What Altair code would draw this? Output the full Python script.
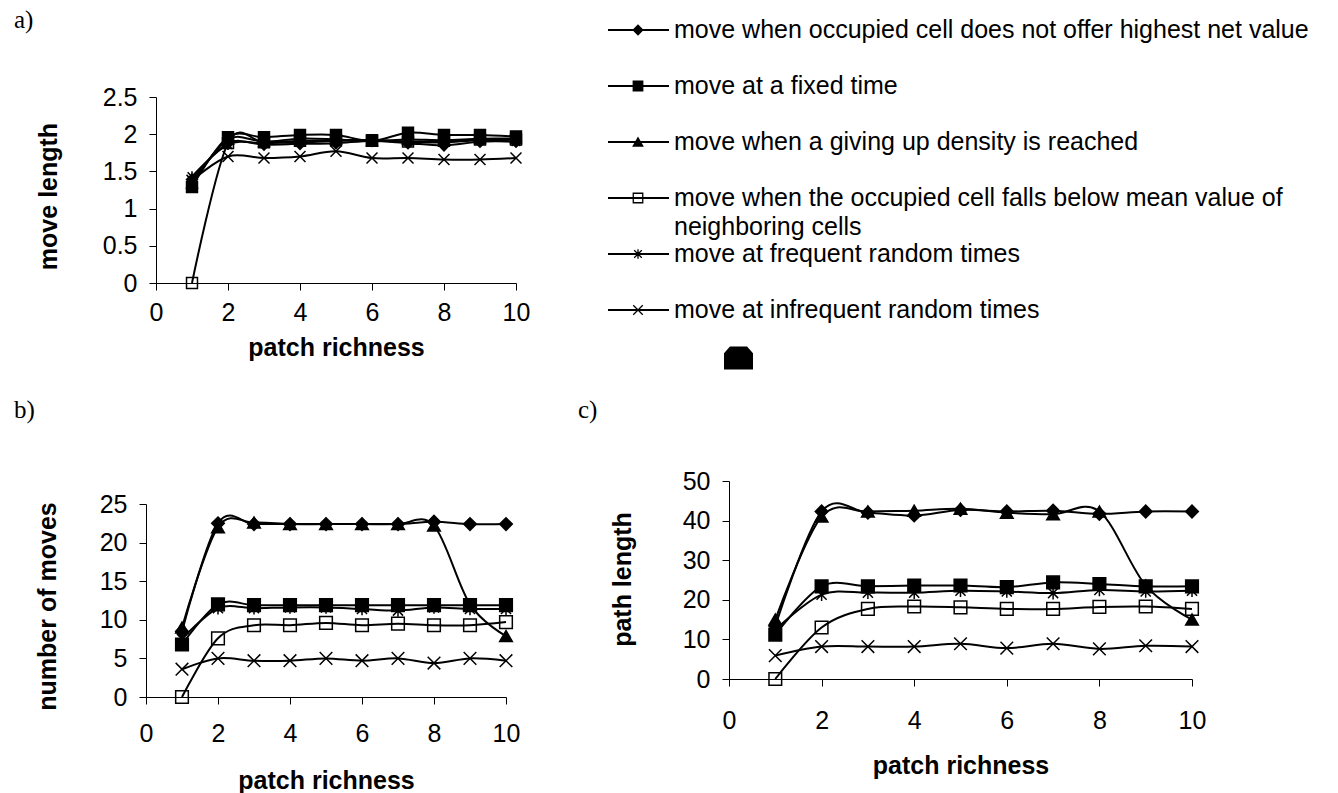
import altair as alt
import pandas as pd

# ---------------- data ----------------
patch_richness = [1, 2, 3, 4, 5, 6, 7, 8, 9, 10]
series_keys = ["s1", "s2", "s3", "s4", "s5", "s6"]
series_labels = [
    ["move when occupied cell does not offer highest net value"],
    ["move at a fixed time"],
    ["move when a giving up density is reached"],
    ["move when the occupied cell falls below mean value of", "neighboring cells"],
    ["move at frequent random times"],
    ["move at infrequent random times"],
]

move_length = [
    [1.39, 1.88, 1.86, 1.87, 1.88, 1.91, 1.88, 1.85, 1.90, 1.90],
    [1.29, 1.96, 1.96, 1.99, 1.99, 1.91, 2.02, 1.99, 1.99, 1.97],
    [1.34, 1.93, 1.90, 1.94, 1.93, 1.91, 1.93, 1.92, 1.94, 1.94],
    [0.00, 1.88, 1.89, 1.91, 1.92, 1.92, 1.90, 1.91, 1.93, 1.93],
    [1.43, 1.86, 1.88, 1.89, 1.91, 1.92, 1.90, 1.89, 1.92, 1.90],
    [1.38, 1.70, 1.68, 1.70, 1.77, 1.68, 1.68, 1.66, 1.66, 1.68],
]
number_of_moves = [
    [8.5, 22.5, 22.4, 22.4, 22.4, 22.4, 22.4, 22.7, 22.4, 22.4],
    [6.8, 12.0, 11.9, 11.9, 11.9, 11.9, 11.9, 11.9, 11.9, 11.9],
    [9.0, 22.0, 22.6, 22.4, 22.4, 22.4, 22.4, 22.2, 12.0, 7.9],
    [0.0, 7.6, 9.3, 9.3, 9.6, 9.3, 9.5, 9.3, 9.3, 9.7],
    [7.5, 11.5, 11.5, 11.6, 11.6, 11.4, 11.2, 11.6, 11.4, 11.4],
    [3.6, 5.0, 4.7, 4.7, 5.0, 4.7, 5.0, 4.4, 5.0, 4.7],
]
path_length = [
    [13.4, 42.3, 42.0, 41.3, 42.7, 42.3, 42.5, 41.7, 42.3, 42.3],
    [11.2, 23.4, 23.4, 23.6, 23.6, 23.2, 24.4, 24.0, 23.4, 23.4],
    [15.0, 41.0, 42.3, 42.5, 43.0, 42.0, 41.6, 42.3, 23.6, 15.0],
    [0.0, 13.0, 17.7, 18.3, 18.1, 17.7, 17.7, 18.2, 18.3, 17.7],
    [12.4, 21.3, 21.8, 21.8, 22.3, 22.1, 21.7, 22.5, 22.1, 22.3],
    [5.9, 8.2, 8.2, 8.2, 8.9, 7.8, 8.9, 7.6, 8.4, 8.2],
]

ticks_a = [0, 0.5, 1, 1.5, 2, 2.5]
ticks_b = [0, 5, 10, 15, 20, 25]
ticks_c = [0, 10, 20, 30, 40, 50]
ticks_x = [0, 2, 4, 6, 8, 10]

# ---------------- style ----------------
W, H = 1338, 793
SANS = "Liberation Sans"
ASTERISK = "M0,-1L0,1M-0.8,-0.8L0.8,0.8M-0.8,0.8L0.8,-0.8"
XMARK = "M-1,-1L1,1M-1,1L1,-1"
shape_scale = alt.Scale(domain=series_keys,
                        range=["diamond", "square", "triangle-up", "square", ASTERISK, XMARK])
fill_scale = alt.Scale(domain=series_keys,
                       range=["black", "black", "black", "transparent", "transparent", "transparent"])


def panel(values, yticks, fmt, ytitle, xr, yr, xlab_pad, xtitle_y, ytitle_x, ytitle_y, msize):
    rows = []
    for k, vals in zip(series_keys, values):
        for x, v in zip(patch_richness, vals):
            rows.append({"pr": x, "v": v, "s": k})
    df = pd.DataFrame(rows)
    base = alt.Chart(df).encode(
        x=alt.X("pr:Q",
                scale=alt.Scale(domain=[0, 10], range=xr, nice=False, zero=False),
                axis=alt.Axis(orient="bottom", offset=yr[0] - H, values=ticks_x,
                              title="patch richness", grid=False,
                              labelFont=SANS, labelFontSize=25, labelColor="black",
                              labelBaseline="middle", labelPadding=xlab_pad,
                              labelFlush=False, labelOverlap=False,
                              tickSize=7, tickColor="black", domainColor="black",
                              titleFont=SANS, titleFontSize=25, titleFontWeight="bold",
                              titleColor="black", titleBaseline="middle", titleY=xtitle_y)),
        y=alt.Y("v:Q",
                scale=alt.Scale(domain=[0, yticks[-1]], range=yr, nice=False),
                axis=alt.Axis(orient="left", offset=-xr[0], values=yticks, format=fmt,
                              title=ytitle, grid=False,
                              labelFont=SANS, labelFontSize=25, labelColor="black",
                              labelPadding=12, labelFlush=False, labelOverlap=False,
                              tickSize=7, tickColor="black", domainColor="black",
                              titleFont=SANS, titleFontSize=25, titleFontWeight="bold",
                              titleColor="black", titleAngle=270, titleBaseline="middle",
                              titleX=ytitle_x, titleY=ytitle_y)),
        detail="s:N",
    )
    lines = base.mark_line(interpolate="cardinal", color="black", strokeWidth=2)
    pts = base.mark_point(filled=True, stroke="black", strokeWidth=1.5, opacity=1,
                          size=msize).encode(
        shape=alt.Shape("s:N", scale=shape_scale, legend=None),
        fill=alt.Fill("s:N", scale=fill_scale, legend=None),
    )
    return alt.layer(lines, pts)


pa = panel(move_length, ticks_a, ".1~f", "move length",
           [156, 516], [283, 97], 22, 64, -108, 196, 120)
pb = panel(number_of_moves, ticks_b, "d", "number of moves",
           [146, 506], [697, 504], 29, 83, -99, 606, 160)
pc = panel(path_length, ticks_c, "d", "path length",
           [729, 1192], [679, 481], 34, 86, -107, 579, 160)

# ---------------- legend ----------------
leg_df = pd.DataFrame({"s": series_keys, "row": list(range(6)), "label": series_labels})
leg_y = alt.Y("row:Q", scale=alt.Scale(domain=[0, 5], range=[30, 310]), axis=None)
leg_base = alt.Chart(leg_df).encode(y=leg_y)
leg_rule = leg_base.mark_rule(color="black", strokeWidth=2).encode(
    x=alt.value(608), x2=alt.value(669))
leg_pts = leg_base.mark_point(filled=True, stroke="black", strokeWidth=1.3, opacity=1,
                              size=90).encode(
    x=alt.value(638),
    shape=alt.Shape("s:N", scale=shape_scale, legend=None),
    fill=alt.Fill("s:N", scale=fill_scale, legend=None),
)
leg_txt = leg_base.mark_text(align="left", baseline="alphabetic", dy=8, font=SANS,
                             fontSize=25, lineHeight=29, color="black").encode(
    x=alt.value(674), text="label")
legend = alt.layer(leg_rule, leg_pts, leg_txt)

# stray filled marker below legend
blob = alt.Chart(pd.DataFrame({"k": [0]})).mark_point(
    filled=True, fill="black", stroke="black", opacity=1,
    shape="M-1,1L-1,-0.1L-0.6,-0.55L0.6,-0.55L1,-0.1L1,1Z", size=729).encode(
    x=alt.value(738.5), y=alt.value(355))

# panel letters
def letter(txt, x, y):
    return alt.Chart(pd.DataFrame({"t": [txt]})).mark_text(
        font="Liberation Serif", fontSize=25, align="left", baseline="middle",
        color="black").encode(text="t:N", x=alt.value(x), y=alt.value(y))

labels = alt.layer(letter("a)", 14, 20), letter("b)", 14, 410), letter("c)", 578, 410))

chart = alt.layer(pa, pb, pc, legend, blob, labels).resolve_scale(
    x="independent", y="independent"
).properties(
    width=W, height=H, autosize="none", padding=0, background="white"
).configure_view(stroke=None)

chart.save("out.html", embed_options={"renderer": "svg", "actions": False})
